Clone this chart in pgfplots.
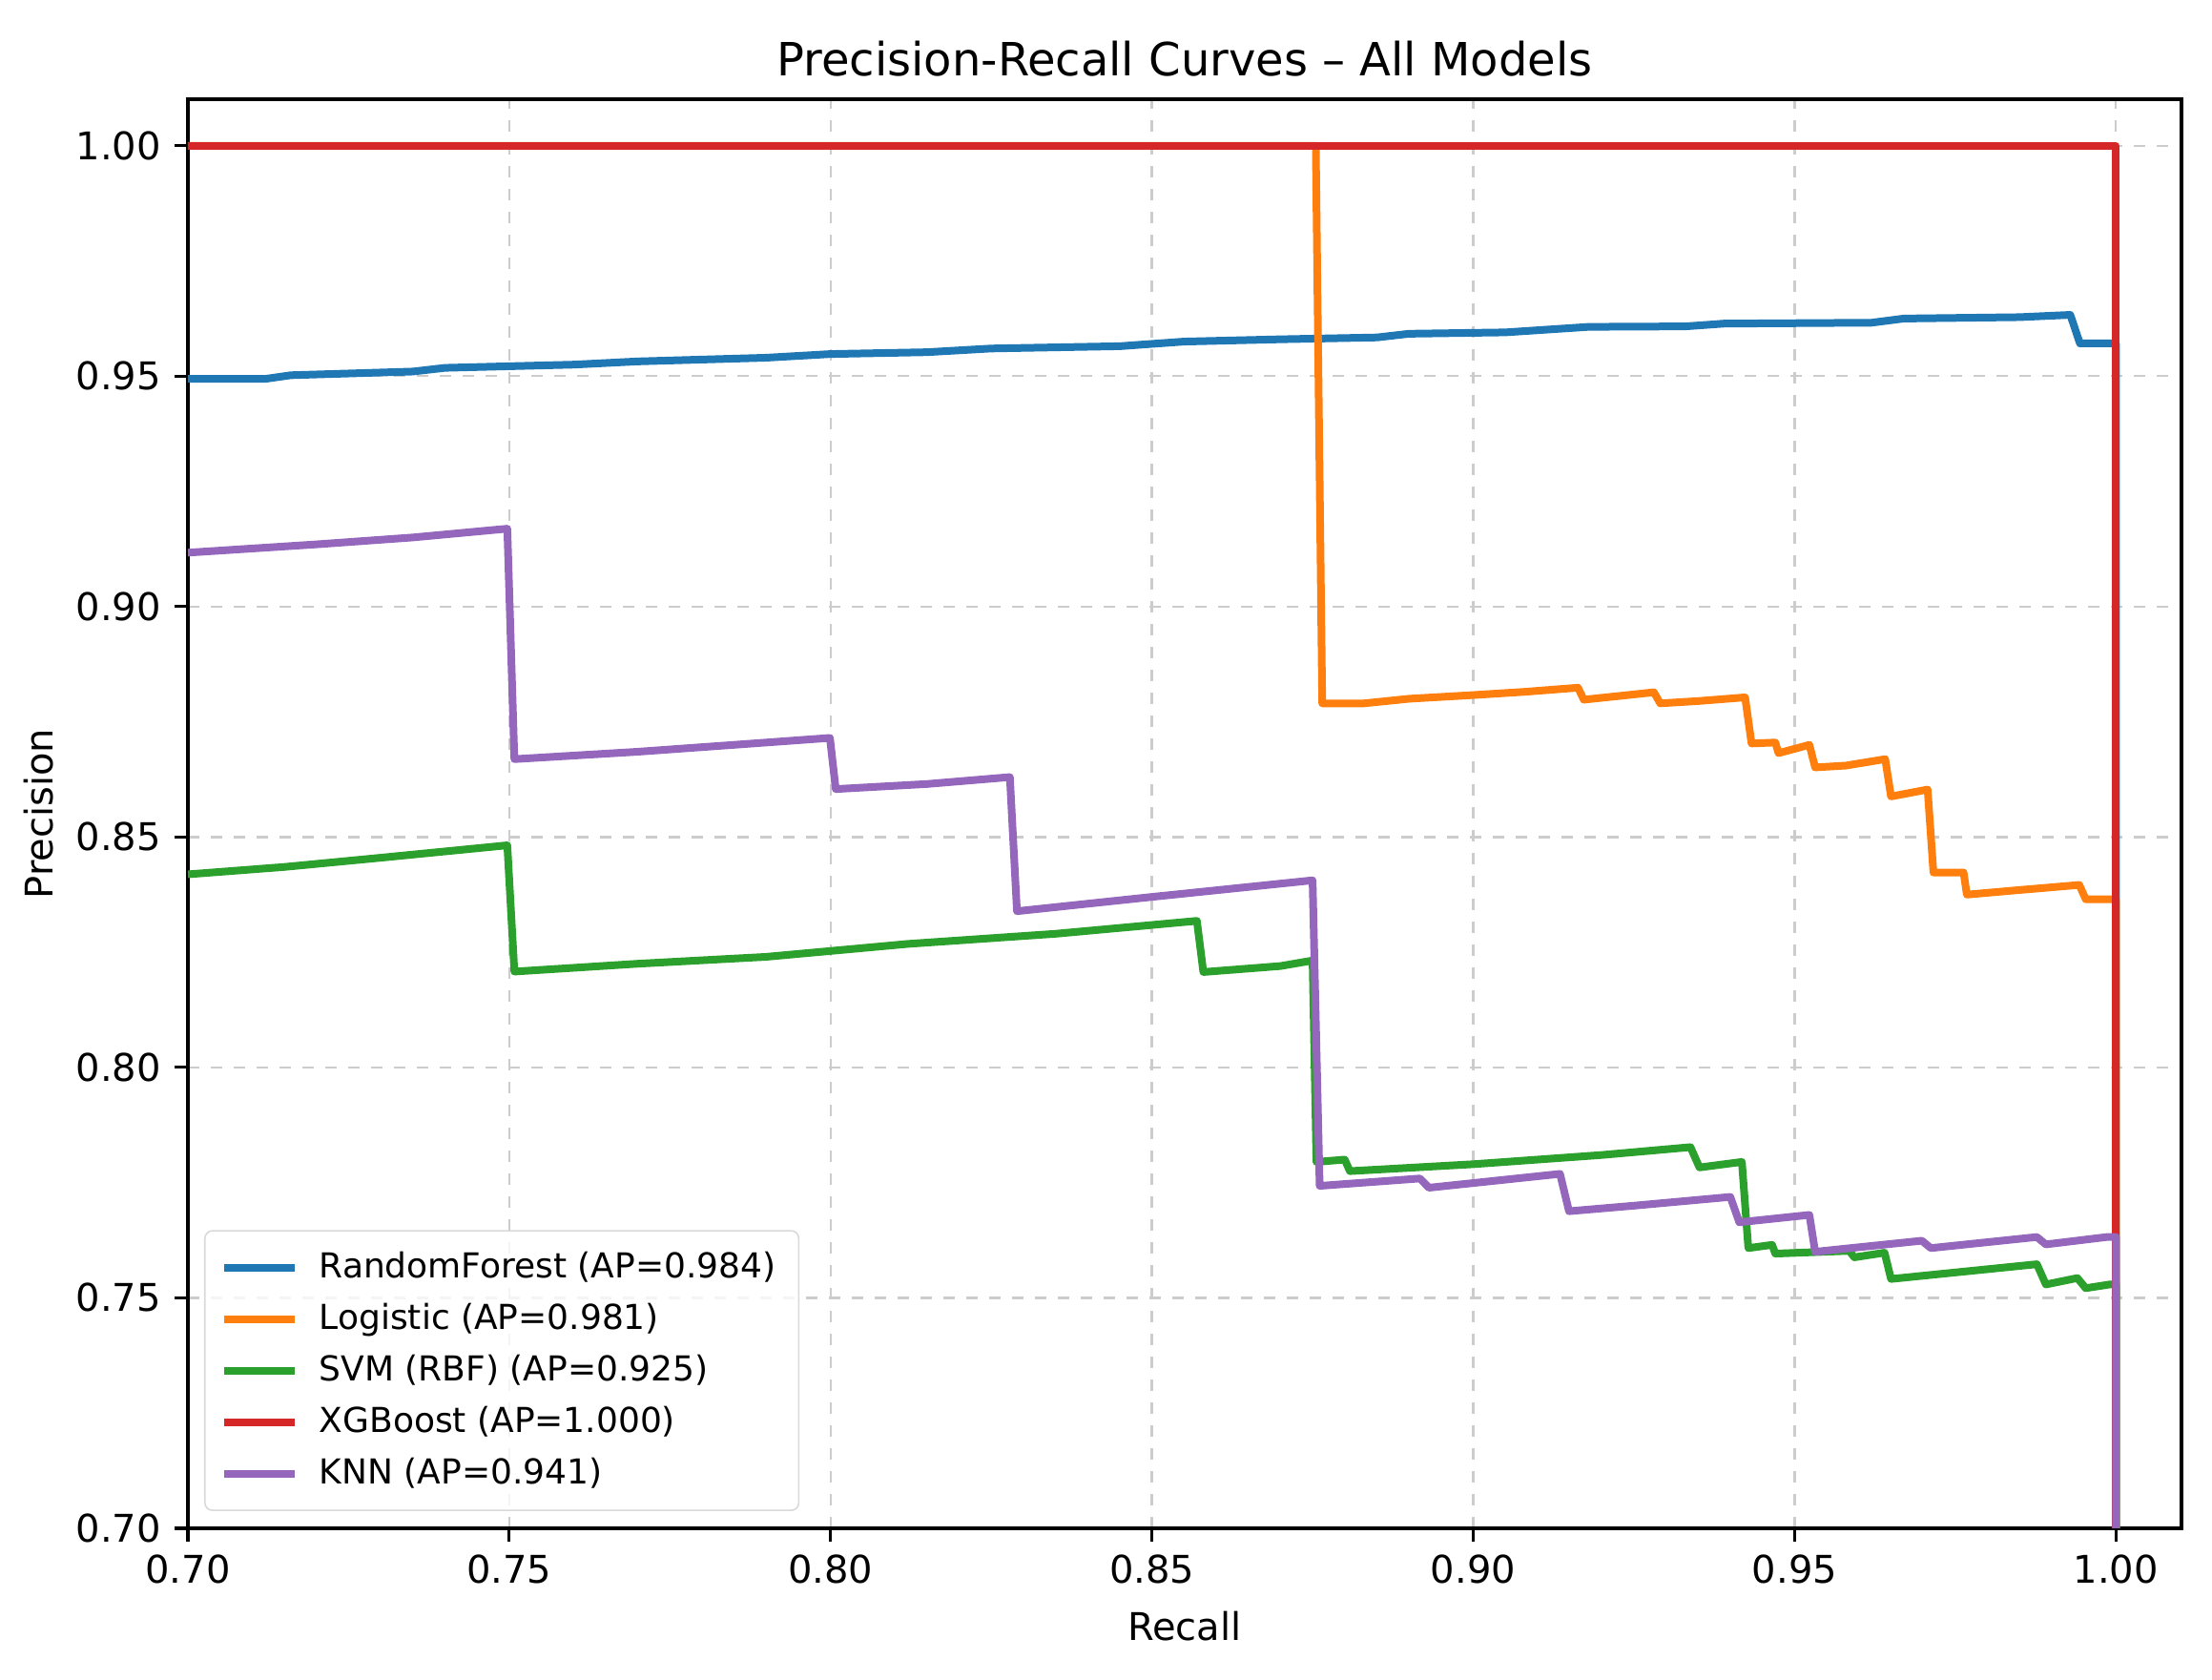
\documentclass[border=0pt]{standalone}
\usepackage{fontspec}
\setmainfont{DejaVu Sans}
\usepackage{pgfplots}
\pgfplotsset{compat=1.18}
\definecolor{tabblue}{HTML}{1F77B4}
\definecolor{taborange}{HTML}{FF7F0E}
\definecolor{tabgreen}{HTML}{2CA02C}
\definecolor{tabred}{HTML}{D62728}
\definecolor{tabpurple}{HTML}{9467BD}
\begin{document}
\begin{tikzpicture}
\begin{axis}[
  scale only axis,
  width=522.5pt, height=374.5pt,
  xmin=0.70, xmax=1.0102, ymin=0.70, ymax=1.0101,
  xtick={0.70,0.75,0.80,0.85,0.90,0.95,1.00},
  ytick={0.70,0.75,0.80,0.85,0.90,0.95,1.00},
  /pgf/number format/assume math mode=true,
  xticklabel style={/pgf/number format/fixed, /pgf/number format/fixed zerofill, /pgf/number format/precision=2, font=\fontsize{10}{12}\selectfont},
  yticklabel style={/pgf/number format/fixed, /pgf/number format/fixed zerofill, /pgf/number format/precision=2, font=\fontsize{10}{12}\selectfont},
  scaled ticks=false,
  tick align=outside, tick pos=left,
  major tick length=3.5pt,
  every tick/.style={black, line width=0.8pt},
  axis line style={black, line width=0.8pt},
  grid=major,
  major grid style={dashed, gray!40, line width=0.6pt},
  title={Precision-Recall Curves – All Models},
  title style={at={(axis description cs:0.5,1)}, anchor=base, font=\fontsize{12}{14}\selectfont},
  xlabel={Recall}, ylabel={Precision},
  xlabel style={at={(axis description cs:0.5,-0.0688)}, anchor=center, font=\fontsize{10}{12}\selectfont},
  ylabel style={at={(axis description cs:-0.0746,0.5)}, anchor=center, font=\fontsize{10}{12}\selectfont},
  legend cell align=left,
  legend style={at={(axis description cs:0,0)}, anchor=south west, xshift=4.25pt, yshift=4.5pt,
    draw=gray!30, rounded corners=2pt, fill=white, fill opacity=0.8, text opacity=1,
    font=\fontsize{9}{11}\selectfont, inner xsep=4pt, inner ysep=3.5pt,
    row sep=1.15pt, /tikz/every odd column/.style={column sep=3.5pt}},
  legend image code/.code={\draw[#1, line width=2pt] (0pt,0pt) -- (18.5pt,0pt);},
  every axis plot/.append style={line width=2pt, line join=round},
]
\addplot[tabblue] coordinates {
(0.700,0.9494)(0.712,0.9494)(0.716,0.9502)(0.735,0.9510)(0.740,0.9518)(0.760,0.9525)(0.770,0.9532)(0.790,0.9540)(0.800,0.9548)(0.815,0.9552)(0.825,0.9560)(0.845,0.9565)(0.855,0.9575)(0.870,0.9580)(0.885,0.9584)(0.890,0.9592)(0.905,0.9595)(0.918,0.9607)(0.933,0.9608)(0.939,0.9614)(0.962,0.9616)(0.967,0.9625)(0.985,0.9628)(0.9929,0.9633)(0.9944,0.9571)(1.0,0.9571)(1.0,0.69)
};
\addlegendentry{RandomForest (AP=0.984)}
\addplot[taborange] coordinates {
(0.700,1.0)(0.8755,1.0)(0.8765,0.8790)(0.883,0.8790)(0.890,0.8800)(0.900,0.8808)(0.908,0.8815)(0.9163,0.8824)(0.9172,0.8798)(0.922,0.8805)(0.9281,0.8814)(0.9291,0.8790)(0.935,0.8795)(0.9423,0.8803)(0.9433,0.8703)(0.9470,0.8705)(0.9475,0.8682)(0.9523,0.8700)(0.9532,0.8651)(0.958,0.8655)(0.9641,0.8669)(0.9650,0.8588)(0.9707,0.8603)(0.9716,0.8423)(0.9763,0.8423)(0.9768,0.8375)(0.985,0.8385)(0.9943,0.8396)(0.9953,0.8365)(1.0,0.8365)(1.0,0.69)
};
\addlegendentry{Logistic (AP=0.981)}
\addplot[tabgreen] coordinates {
(0.700,0.8419)(0.715,0.8435)(0.730,0.8455)(0.7497,0.8482)(0.7508,0.8208)(0.770,0.8225)(0.790,0.8240)(0.812,0.8268)(0.835,0.8290)(0.857,0.8318)(0.858,0.8207)(0.870,0.8220)(0.875,0.8232)(0.8756,0.7795)(0.880,0.7800)(0.8808,0.7775)(0.900,0.7790)(0.920,0.7810)(0.9338,0.7827)(0.9352,0.7783)(0.9418,0.7795)(0.9428,0.7608)(0.9465,0.7615)(0.9470,0.7596)(0.9585,0.7602)(0.9593,0.7588)(0.9640,0.7598)(0.9650,0.7541)(0.9877,0.7573)(0.9891,0.7529)(0.9940,0.7543)(0.9953,0.7521)(0.9990,0.7529)(1.0,0.7529)(1.0,0.69)
};
\addlegendentry{SVM (RBF) (AP=0.925)}
\addplot[tabred] coordinates {
(0.700,1.0)(1.0,1.0)(1.0,0.69)
};
\addlegendentry{XGBoost (AP=1.000)}
\addplot[tabpurple] coordinates {
(0.700,0.9117)(0.720,0.9135)(0.735,0.9150)(0.7497,0.9169)(0.7508,0.8669)(0.770,0.8685)(0.785,0.8700)(0.7999,0.8715)(0.8008,0.8604)(0.815,0.8615)(0.8279,0.8630)(0.8290,0.8339)(0.850,0.8370)(0.875,0.8406)(0.8761,0.7743)(0.8917,0.7759)(0.8931,0.7739)(0.9135,0.7769)(0.9149,0.7688)(0.925,0.7700)(0.9400,0.7719)(0.9414,0.7664)(0.9523,0.7680)(0.9532,0.7600)(0.9698,0.7624)(0.9712,0.7608)(0.9877,0.7632)(0.9891,0.7616)(0.9986,0.7632)(1.0,0.7632)(1.0,0.69)
};
\addlegendentry{KNN (AP=0.941)}
\end{axis}
\pgfresetboundingbox
\path[use as bounding box] ([xshift=-49.25pt,yshift=-39.75pt]current axis.south west) rectangle ([xshift=8pt,yshift=26pt]current axis.north east);
\end{tikzpicture}
\end{document}
